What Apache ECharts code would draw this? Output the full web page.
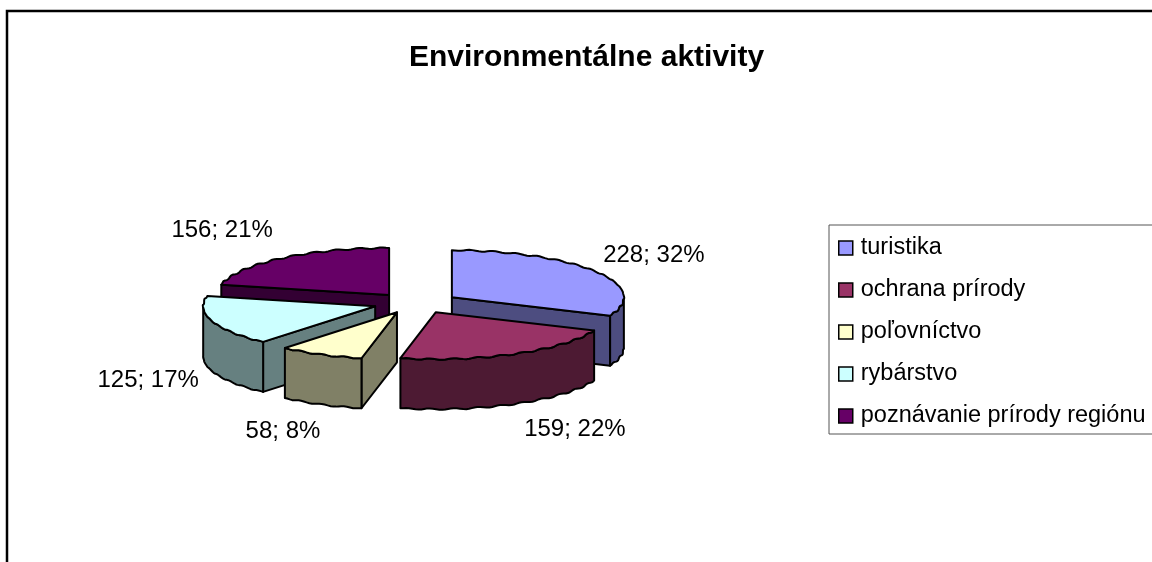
<!DOCTYPE html>
<html><head><meta charset="utf-8">
<style>html,body{margin:0;padding:0;background:#fff;overflow:hidden}#c{width:1152px;height:562px}</style>
<script src="https://cdn.jsdelivr.net/npm/echarts@6/dist/echarts.min.js"></script>
</head><body><div id="c"></div>
<script>
const categories = ['turistika','ochrana prírody','poľovníctvo','rybárstvo','poznávanie prírody regiónu'];
const values = [228,159,58,125,156];
const percents = [32,22,8,17,21];
const topColors = ['#9999FF','#993366','#FFFFCC','#CCFFFF','#660066'];
const wallColors = ['#4D4D80','#4D1A33','#808066','#668080','#330033'];
const drawOrder = [4,0,3,1,2];
const labelOffsets = [[202,-42],[139,117],[-114,119],[-227,74],[-167,-65]];

const cx=416, cy=303, rx=172, ry=47, depth=50, explode=0.25, explodeY=0.22;
const total = values.reduce((a,b)=>a+b,0);
const starts=[]; let acc=0;
values.forEach(v=>{starts.push(acc); acc+=v/total*360;});
const rad=d=>d*Math.PI/180;

function rim(ax,ay,deg,dz,w){
  const ripple=(w||0)*Math.sin(rad(deg*45));
  return [ax+rx*Math.sin(rad(deg))+0.4*ripple, ay-ry*Math.cos(rad(deg))+0.7*ripple+dz];
}
function arc(ax,ay,a0,a1,dz){
  const pts=[]; const n=Math.max(2,Math.ceil((a1-a0)));
  for(let i=0;i<=n;i++){
    const d=a0+(a1-a0)*i/n;
    pts.push(rim(ax,ay,d,dz,Math.min(1,Math.min(d-a0,a1-d)/3)));
  }
  return pts;
}
const edge={stroke:'#000',lineWidth:2,lineJoin:'round'};
function renderSlice(i){
  return function(){
    const a0=starts[i], a1=a0+values[i]/total*360, mid=(a0+a1)/2;
    const ax=cx+explode*rx*Math.sin(rad(mid)), ay=cy-explodeY*ry*Math.cos(rad(mid));
    const wall=wallColors[i], kids=[];
    const poly=(points,fill)=>kids.push({type:'polygon',shape:{points},style:Object.assign({fill},edge)});
    const faces=[];
    if(Math.sin(rad(a0))<-1e-6) faces.push(a0);
    if(Math.sin(rad(a1))>1e-6) faces.push(a1);
    faces.forEach(a=>{
      const p=rim(ax,ay,a,0,0);
      poly([[ax,ay],p,[p[0],p[1]+depth],[ax,ay+depth]],wall);
    });
    const w0=Math.max(a0,90), w1=Math.min(a1,270);
    if(w1>w0) poly(arc(ax,ay,w0,w1,0).concat(arc(ax,ay,w0,w1,depth).reverse()),wall);
    poly([[ax,ay]].concat(arc(ax,ay,a0,a1,0)),topColors[i]);
    kids.push({type:'text',style:{
      text:values[i]+'; '+percents[i]+'%',
      x:ax+labelOffsets[i][0],y:ay+labelOffsets[i][1],
      align:'center',verticalAlign:'middle',
      font:'24px "Liberation Sans"',fill:'#000'}});
    return {type:'group',children:kids};
  };
}
const chart=echarts.init(document.getElementById('c'),null,{renderer:'canvas'});
chart.setOption({
  animation:false,
  backgroundColor:'#fff',
  title:{text:'Environmentálne aktivity',left:409,top:43,padding:0,
    textStyle:{fontFamily:'Liberation Sans',fontWeight:'bold',fontSize:30,color:'#000'}},
  graphic:[{type:'rect',silent:true,shape:{x:7,y:11,width:1400,height:800},style:{fill:'none',stroke:'#000',lineWidth:2.5}}],
  legend:{orient:'vertical',left:829,top:225,padding:[11,60,6,9],itemGap:18,itemWidth:14,itemHeight:14,
    icon:'rect',borderColor:'#555',borderWidth:1,backgroundColor:'#fff',
    selectedMode:false,data:categories,
    itemStyle:{borderColor:'#000',borderWidth:1.5},
    textStyle:{fontFamily:'Liberation Sans',fontSize:23.5,color:'#000',padding:[0,0,0,3]}},
  series:drawOrder.map(i=>({
    type:'custom',name:categories[i],coordinateSystem:'none',
    itemStyle:{color:topColors[i]},
    data:[values[i]],renderItem:renderSlice(i),silent:true}))
});
</script></body></html>
